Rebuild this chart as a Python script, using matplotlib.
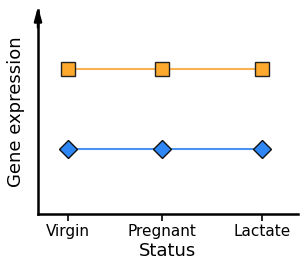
import matplotlib.pyplot as plt

# Data
status = ["Virgin", "Pregnant", "Lactate"]
status_pos = [0, 0.94, 1.94]
gene_a = [2, 2, 2]   # orange squares
gene_b = [1, 1, 1]   # blue diamonds

fig = plt.figure(figsize=(3.0, 2.68), dpi=100)
ax = fig.add_axes([38 / 300, 54 / 268, 260 / 300, 204 / 268])

ax.plot(status_pos, gene_a, color="#f8b252", lw=1.5, zorder=1)
ax.plot(status_pos, gene_a, ls="none", marker="s", ms=9.5,
        mfc="#fda92e", mec="#222222", mew=1, zorder=2)
ax.plot(status_pos, gene_b, color="#4a91f0", lw=1.5, zorder=1)
ax.plot(status_pos, gene_b, ls="none", marker="D", ms=9,
        mfc="#2f86f5", mec="#111111", mew=1, zorder=2)

ax.set_xlim(-0.3, 2.30)
ax.set_ylim(0.19, 2.74)

ax.set_xticks(status_pos)
ax.set_xticklabels(status, fontsize=11)
ax.set_yticks([])
ax.tick_params(axis="x", length=5, width=1.2, pad=2)
ax.set_xlabel("Status", fontsize=13, labelpad=2)
ax.set_ylabel("Gene expression", fontsize=13, labelpad=9)

for side in ["top", "right"]:
    ax.spines[side].set_visible(False)
for side in ["left", "bottom"]:
    ax.spines[side].set_linewidth(1.8)

# arrow head on top of the y axis
ax.annotate("", xy=(0, 1.03), xytext=(0, 0.9), xycoords="axes fraction",
            arrowprops=dict(arrowstyle="-|>,head_length=0.8,head_width=0.22",
                            color="black", lw=1.8), annotation_clip=False)

plt.savefig("out.png", dpi=100)
